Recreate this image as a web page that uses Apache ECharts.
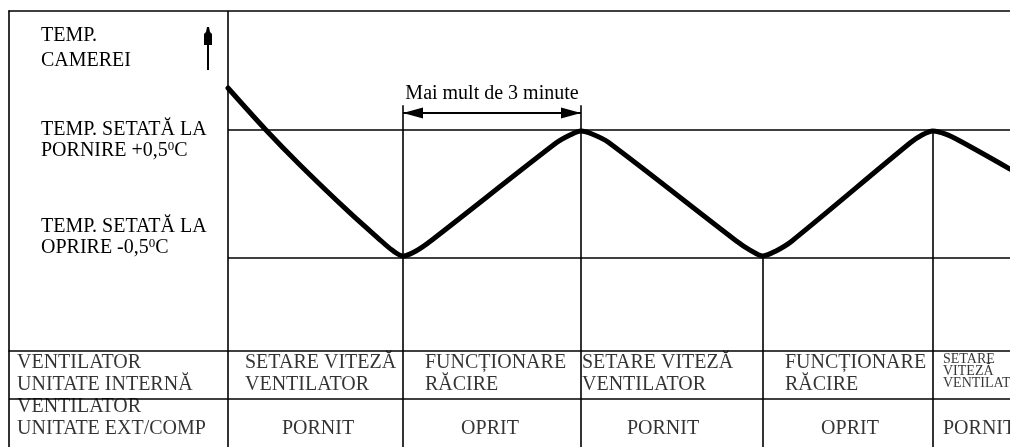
<!DOCTYPE html>
<html>
<head>
<meta charset="utf-8">
<script src="https://cdn.jsdelivr.net/npm/echarts@6/dist/echarts.min.js"></script>
<style>
  html, body { margin: 0; padding: 0; background: #fff; }
  #chart { width: 1010px; height: 447px; }
</style>
</head>
<body>
<div id="chart"></div>
<script>
// Room temperature (°C relative to the set point) against time
const timeSteps = [0.0, 3.7, 7.2, 12.2, 15.0, 16.4, 17.5,
                   18.8, 20.4, 32.8, 34.2, 35.3,
                   36.4, 38.0, 50.7, 52.2, 53.5,
                   54.8, 56.4, 68.2, 69.4, 70.5,
                   71.7, 73.2, 78.2];
const roomTemp  = [0.828, 0.508, 0.227, -0.148, -0.344, -0.438, -0.484,
                   -0.445, -0.359, 0.398, 0.461, 0.492,
                   0.469, 0.406, -0.359, -0.438, -0.484,
                   -0.445, -0.367, 0.398, 0.461, 0.492,
                   0.469, 0.414, 0.195];

// Switching thresholds: start at +0.5 °C, stop at -0.5 °C
const startThreshold = 0.5;
const stopThreshold = -0.5;

// Phase boundaries on the time axis (turning points of the curve)
const phaseBounds = [0, 17.5, 35.3, 53.5, 70.5, 78.2];
// Minimum off time between a stop and the next start
const minOffSpan = [17.5, 35.3];
const minOffText = 'Mai mult de 3 minute';

// Table rows
const rowTitles = ['VENTILATOR\nUNITATE INTERNĂ', 'VENTILATOR\nUNITATE EXT/COMP'];
const indoorFan = ['SETARE VITEZĂ\nVENTILATOR', 'FUNCȚIONARE\nRĂCIRE', 'SETARE VITEZĂ\nVENTILATOR', 'FUNCȚIONARE\nRĂCIRE', 'SETARE\nVITEZĂ\nVENTILATOR'];
const outdoorUnit = ['PORNIT', 'OPRIT', 'PORNIT', 'OPRIT', 'PORNIT'];

// ---- layout ----
const T_MIN = -21.9, T_MAX = 78.2;          // time axis spans the label column too
const TEMP_MIN = -1.2266, TEMP_MAX = 1.4297;
const ARROW_LEVEL = 0.633;
const SERIF = '"Liberation Serif", "Times New Roman", serif';
const INK = '#000';
const thin = { color: INK, width: 1.6, type: 'solid' };

const chart = echarts.init(document.getElementById('chart'), null, { renderer: 'canvas' });

const phaseLineTops = [ARROW_LEVEL + 0.06, ARROW_LEVEL + 0.06, stopThreshold, startThreshold];

const upperLines = [
  { xAxis: 0 },
  [{ coord: [0, startThreshold] }, { coord: [T_MAX, startThreshold] }],
  [{ coord: [0, stopThreshold] }, { coord: [T_MAX, stopThreshold] }]
];
phaseBounds.slice(1, 5).forEach((t, i) => {
  upperLines.push([{ coord: [t, phaseLineTops[i]] }, { coord: [t, TEMP_MIN] }]);
});

const lowerLines = [{ yAxis: 0 }, { yAxis: 1 }];
phaseBounds.slice(0, 5).forEach(t => lowerLines.push({ xAxis: t }));

// table cells
const textBase = { fontFamily: SERIF, fontSize: 20, color: INK, lineHeight: 22 };
const row1Dist = [17, 22, 1, 22, 10];
const row2Shift = [2.5, -2, -9, 2];
const cells = [];
rowTitles.forEach((txt, r) => {
  cells.push({
    value: [T_MIN, r + 0.5],
    label: Object.assign({ show: true, position: 'right', distance: 8, offset: [0, r === 0 ? -1 : -5],
      formatter: txt }, textBase)
  });
});
indoorFan.forEach((txt, i) => {
  const small = i === 4;
  cells.push({
    value: [phaseBounds[i], 0.5],
    label: Object.assign({ show: true, position: 'right', distance: row1Dist[i], offset: [0, small ? -4 : -1],
      formatter: txt }, textBase, small ? { fontSize: 14, lineHeight: 12 } : {})
  });
});
outdoorUnit.forEach((txt, i) => {
  if (i < 4) {
    cells.push({
      value: [(phaseBounds[i] + phaseBounds[i + 1]) / 2, 1.5],
      label: Object.assign({ show: true, position: 'inside', offset: [row2Shift[i], 6], formatter: txt }, textBase)
    });
  } else {
    cells.push({
      value: [phaseBounds[i], 1.5],
      label: Object.assign({ show: true, position: 'right', distance: 10, offset: [0, 6], formatter: txt }, textBase)
    });
  }
});

const supRich = {
  n: { fontFamily: SERIF, fontSize: 20, lineHeight: 21, fill: INK },
  s: { fontFamily: SERIF, fontSize: 13, lineHeight: 11, fill: INK, verticalAlign: 'top' }
};

chart.setOption({
  animation: false,
  backgroundColor: '#fff',
  grid: [
    { left: 9, right: 0, top: 11, bottom: 96 },
    { left: 9, right: 0, top: 351, bottom: 0 }
  ],
  xAxis: [
    { type: 'value', gridIndex: 0, min: T_MIN, max: T_MAX, position: 'top',
      axisLine: { show: true, onZero: false, lineStyle: thin },
      axisTick: { show: false }, axisLabel: { show: false }, splitLine: { show: false } },
    { type: 'value', gridIndex: 1, min: T_MIN, max: T_MAX, show: false }
  ],
  yAxis: [
    { type: 'value', gridIndex: 0, min: TEMP_MIN, max: TEMP_MAX,
      axisLine: { show: true, onZero: false, lineStyle: thin },
      axisTick: { show: false }, axisLabel: { show: false }, splitLine: { show: false } },
    { type: 'value', gridIndex: 1, min: 0, max: 2, inverse: true,
      axisLine: { show: true, onZero: false, lineStyle: thin },
      axisTick: { show: false }, axisLabel: { show: false }, splitLine: { show: false } }
  ],
  series: [
    {
      name: 'rules', type: 'line', xAxisIndex: 0, yAxisIndex: 0, data: [], z: 1,
      markLine: {
        silent: true, symbol: 'none', animation: false,
        label: { show: false }, lineStyle: thin, emphasis: { disabled: true },
        data: upperLines
      }
    },
    {
      name: 'span', type: 'line', xAxisIndex: 0, yAxisIndex: 0, data: [], z: 2,
      markLine: {
        silent: true, animation: false,
        symbol: ['triangle', 'triangle'], symbolSize: [11, 20], symbolOffset: [[0, 10], [0, 10]],
        lineStyle: { color: INK, width: 2, type: 'solid' },
        itemStyle: { color: INK },
        emphasis: { disabled: true },
        label: { show: true, position: 'middle', distance: 9, formatter: minOffText,
          fontFamily: SERIF, fontSize: 20, color: INK },
        data: [[{ coord: [minOffSpan[0], ARROW_LEVEL] }, { coord: [minOffSpan[1], ARROW_LEVEL] }]]
      }
    },
    {
      name: 'TEMP. CAMEREI', type: 'line', xAxisIndex: 0, yAxisIndex: 0, z: 5,
      data: timeSteps.map((t, i) => [t, roomTemp[i]]),
      smooth: 0.3, showSymbol: false, symbol: 'none',
      lineStyle: { color: INK, width: 5, cap: 'round', join: 'round' },
      clip: true
    },
    {
      name: 'table', type: 'line', xAxisIndex: 1, yAxisIndex: 1, data: [], z: 1,
      markLine: {
        silent: true, symbol: 'none', animation: false,
        label: { show: false }, lineStyle: thin, emphasis: { disabled: true },
        data: lowerLines
      }
    },
    {
      name: 'cells', type: 'scatter', xAxisIndex: 1, yAxisIndex: 1, z: 3,
      symbolSize: 0, silent: true, data: cells
    }
  ],
  graphic: [
    // label column
    { type: 'text', left: 41, top: 23, silent: true,
      style: { text: 'TEMP.\nCAMEREI', font: '20px ' + SERIF, fill: INK, lineHeight: 25 } },
    { type: 'text', left: 41, top: 120, silent: true,
      style: { text: '{n|TEMP. SETATĂ LA}\n{n|PORNIRE +0,5}{s|0}{n|C}', rich: supRich, fill: INK } },
    { type: 'text', left: 41, top: 217, silent: true,
      style: { text: '{n|TEMP. SETATĂ LA}\n{n|OPRIRE -0,5}{s|0}{n|C}', rich: supRich, fill: INK } },
    // upward arrow for rising temperature
    { type: 'line', silent: true, shape: { x1: 208, y1: 40, x2: 208, y2: 70 }, style: { stroke: INK, lineWidth: 2 } },
    { type: 'polygon', silent: true,
      shape: { points: [[207, 27], [209, 27], [210, 32], [212, 34], [212, 45], [204, 45], [204, 34], [206, 32]] },
      style: { fill: INK } }
  ]
});
</script>
</body>
</html>
